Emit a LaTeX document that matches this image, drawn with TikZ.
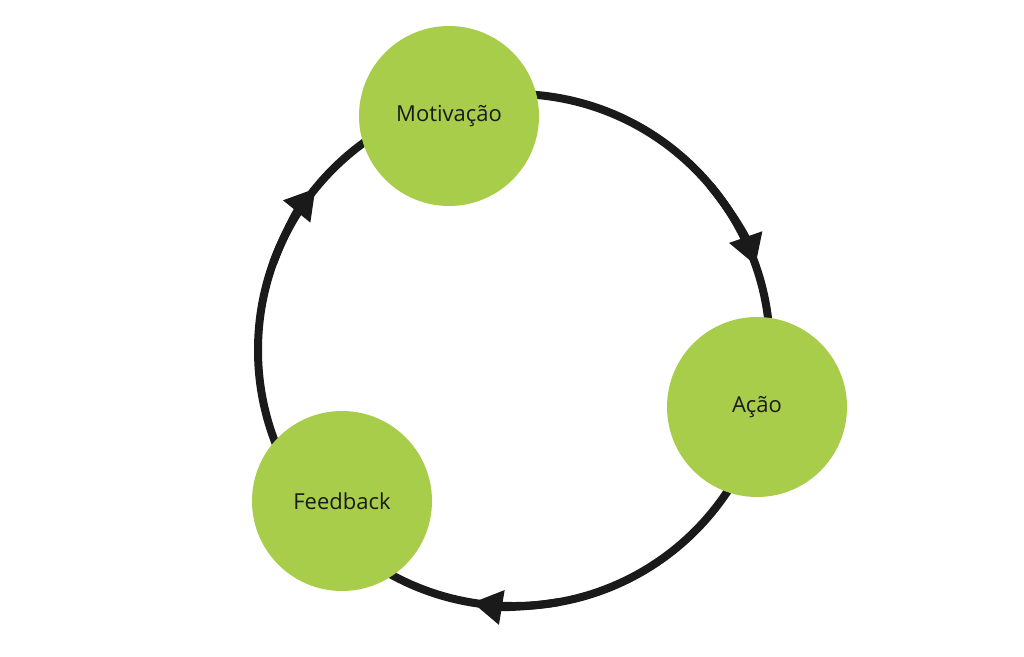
\documentclass[tikz,border=0pt]{standalone}
\usepackage{fontspec}
\setmainfont{Open Sans}
\usetikzlibrary{arrows.meta}
\definecolor{leaf}{RGB}{168,205,74}
\definecolor{ink}{RGB}{26,26,26}
\tikzset{
  stage/.style={circle,fill=leaf,minimum size=180pt,inner sep=0pt,font=\fontsize{22}{26}\selectfont,text=ink},
  ring/.style={draw=ink,line width=8pt},
  tipped/.style={ring,-{Triangle[length=30pt,width=33pt]}}
}
\begin{document}
\begin{tikzpicture}[x=1pt,y=-1pt]
\useasboundingbox (0,0) rectangle (1024,656);
\coordinate (c) at (514,350);
\draw[ring] (c) circle[radius=256];
\draw[tipped] (c) ++(-40:256) arc[start angle=-40,end angle=-19.3,radius=256];
\draw[tipped] (c) ++(80:256) arc[start angle=80,end angle=99.4,radius=256];
\draw[tipped] (c) ++(200:256) arc[start angle=200,end angle=219.2,radius=256];
\node[stage] (mot) at (449,116) {Motivação};
\node[stage] (acao) at (757,407) {Ação};
\node[stage] (feed) at (342,501) {Feedback};
\end{tikzpicture}
\end{document}
